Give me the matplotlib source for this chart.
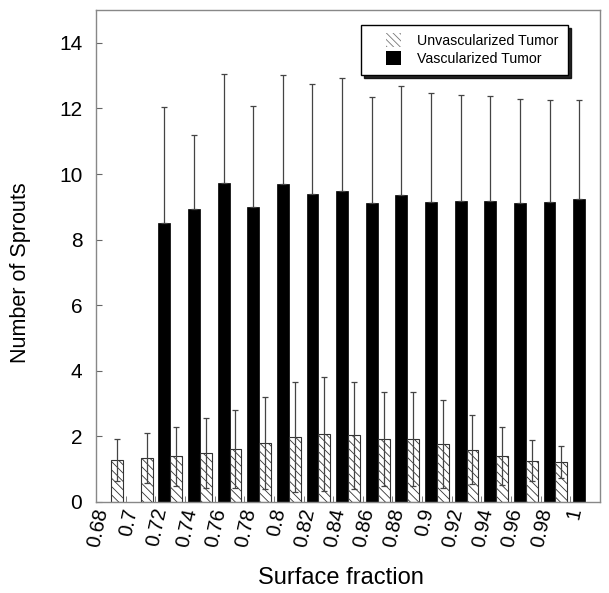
import matplotlib
matplotlib.use("Agg")
import matplotlib.pyplot as plt
import numpy as np
from matplotlib.patches import Patch, Rectangle
from matplotlib.legend_handler import HandlerPatch

plt.rcParams['font.family'] = ['Liberation Sans', 'DejaVu Sans']
plt.rcParams['hatch.linewidth'] = 0.6

categories = ["0.68", "0.7", "0.72", "0.74", "0.76", "0.78", "0.8", "0.82", "0.84",
              "0.86", "0.88", "0.9", "0.92", "0.94", "0.96", "0.98", "1"]
unvasc = [1.28, 1.33, 1.39, 1.49, 1.61, 1.80, 1.98, 2.07, 2.04,
          1.91, 1.92, 1.77, 1.59, 1.40, 1.26, 1.22, 0.0]
unvasc_err = [0.63, 0.76, 0.90, 1.07, 1.18, 1.41, 1.68, 1.75, 1.63,
              1.43, 1.42, 1.35, 1.05, 0.88, 0.63, 0.48, 0.0]
vasc = [0.0, 0.0, 8.52, 8.92, 9.72, 8.98, 9.70, 9.39, 9.48,
        9.11, 9.35, 9.16, 9.18, 9.18, 9.12, 9.16, 9.23]
vasc_err = [0.0, 0.0, 3.53, 2.27, 3.33, 3.10, 3.32, 3.36, 3.44,
            3.25, 3.34, 3.30, 3.23, 3.19, 3.16, 3.10, 3.03]

fig = plt.figure(figsize=(6.09, 5.93), dpi=100)
ax = fig.add_axes([0.158, 0.1535, 0.827, 0.8295])

x = np.arange(len(categories))
w = 0.4

vmask = np.array(vasc) > 0
umask = np.array(unvasc) > 0

ax.bar(x[vmask] - 0.2, np.array(vasc)[vmask], width=w, color='black',
       edgecolor='black', linewidth=0.5, zorder=2)
ax.errorbar(x[vmask] - 0.2, np.array(vasc)[vmask],
            yerr=[np.zeros(vmask.sum()), np.array(vasc_err)[vmask]],
            fmt='none', ecolor='#444444', elinewidth=0.9, capsize=2.5, capthick=0.9, zorder=3)

ax.bar(x[umask] + 0.2, np.array(unvasc)[umask], width=w, color='white',
       edgecolor='#333333', hatch='\\\\\\\\', linewidth=0.8, zorder=2)
ax.errorbar(x[umask] + 0.2, np.array(unvasc)[umask], yerr=np.array(unvasc_err)[umask],
            fmt='none', ecolor='#444444', elinewidth=0.9, capsize=2.5, capthick=0.9, zorder=3)

ax.set_xlim(-0.5, len(categories) - 0.5)
ax.set_ylim(0, 15)
ax.set_yticks([0, 2, 4, 6, 8, 10, 12, 14])
ax.tick_params(axis='y', direction='in', length=4, labelsize=15, color='#666666', pad=10)

ax.set_xticks(x)
ax.set_xticklabels(categories, rotation=78, ha='right', va='top', fontsize=14.5)
ax.set_xticks(np.arange(len(categories)) + 0.5, minor=True)
ax.tick_params(axis='x', which='major', length=0, pad=3)
ax.tick_params(axis='x', which='minor', direction='in', length=4, color='#666666')

for s in ax.spines.values():
    s.set_color('#888888')
    s.set_linewidth(1.0)

ax.set_xlabel('Surface fraction', fontsize=17)
ax.xaxis.set_label_coords(0.485, -0.132)
ax.set_ylabel('Number of Sprouts', fontsize=15.5)
ax.yaxis.set_label_coords(-0.129, 0.467)


class SquareHandler(HandlerPatch):
    def create_artists(self, legend, orig_handle, xdescent, ydescent, width,
                       height, fontsize, trans):
        s = height + 3
        p = Rectangle((-xdescent + width * 0.45, -ydescent - 1.5), s, s,
                      facecolor=orig_handle.get_facecolor(),
                      edgecolor=orig_handle.get_edgecolor(),
                      hatch=orig_handle.get_hatch(), linewidth=0,
                      transform=trans)
        return [p]


handles = [Patch(facecolor='white', edgecolor='#777777', hatch='\\\\\\\\\\', label='Unvascularized Tumor'),
           Patch(facecolor='black', edgecolor='black', label='Vascularized Tumor')]
leg = ax.legend(handles=handles, loc='upper right', bbox_to_anchor=(0.9365, 0.9695),
                borderaxespad=0.0,
                fontsize=10.2, frameon=True, fancybox=False,
                shadow={'color': 'black', 'alpha': 0.85, 'ox': 2, 'oy': -2},
                handlelength=2.5, handleheight=0.7, borderpad=0.65, labelspacing=0.25,
                handletextpad=0.8, handler_map={Patch: SquareHandler()})
leg.get_frame().set_edgecolor('black')
leg.get_frame().set_linewidth(1.0)
leg.set_zorder(5)

fig.savefig('out.png', dpi=100)
